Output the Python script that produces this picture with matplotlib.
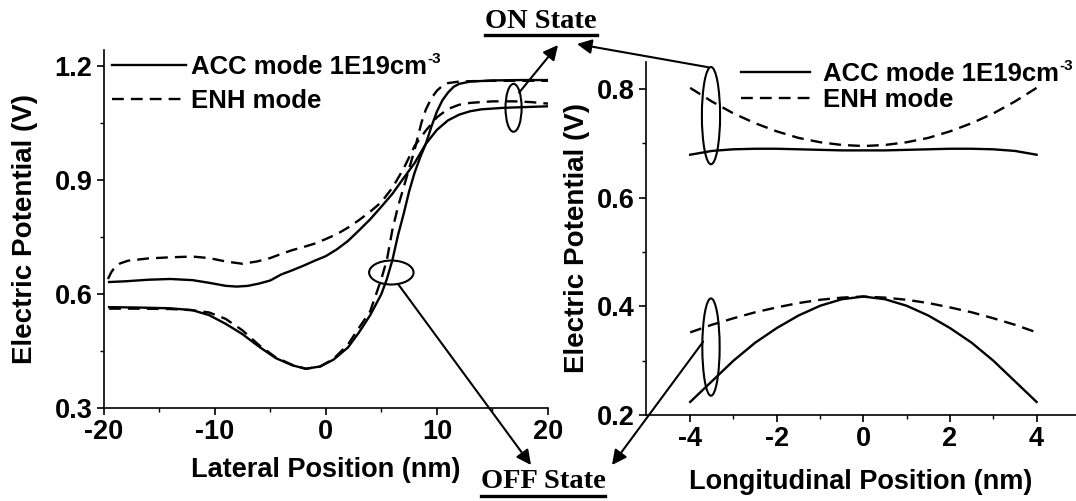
import matplotlib
matplotlib.use("Agg")
import matplotlib.pyplot as plt
from matplotlib.patches import Ellipse
from matplotlib.lines import Line2D

plt.rcParams['font.family'] = ['Liberation Sans', 'DejaVu Sans']
plt.rcParams['font.weight'] = 'bold'
plt.rcParams['axes.unicode_minus'] = False

# lateral cut (nm, V)
lat_acc_on_x = [-19.5, -18, -16, -14, -12, -10.5, -9, -8, -7, -6, -5, -4, -3, -2, -1, 0, 1, 2, 3, 4, 5,
                6, 7, 8, 9, 10, 11, 12, 13, 14, 16, 18, 20]
lat_acc_on_v = [0.632, 0.634, 0.638, 0.640, 0.637, 0.630, 0.622, 0.620, 0.622, 0.628, 0.636, 0.652, 0.663,
                0.675, 0.688, 0.700, 0.718, 0.740, 0.768, 0.797, 0.830, 0.864, 0.905, 0.945, 0.995, 1.032,
                1.057, 1.072, 1.081, 1.086, 1.090, 1.092, 1.094]
lat_enh_on_x = [-19.6, -19.3, -19.0, -18.5, -17.8, -16, -14, -12, -10.5, -9, -7.5, -6.2, -5, -4, -3, -2, -1,
                0, 1, 2, 3, 4, 5, 6, 7, 8, 9, 10, 11, 12, 13, 15, 17, 18.5, 20]
lat_enh_on_v = [0.640, 0.658, 0.670, 0.681, 0.688, 0.694, 0.697, 0.699, 0.695, 0.686, 0.680, 0.686, 0.695,
                0.706, 0.716, 0.724, 0.733, 0.745, 0.758, 0.775, 0.795, 0.817, 0.842, 0.880, 0.930, 0.990,
                1.030, 1.065, 1.087, 1.098, 1.103, 1.107, 1.107, 1.105, 1.101]
lat_acc_off_x = [-19.5, -17, -14, -12, -10.5, -9, -7.5, -6, -4.5, -3, -1.8, -0.5, 0.7, 2, 3, 4, 5, 5.5, 6,
                 6.5, 7, 7.5, 8, 8.5, 9, 9.5, 10, 10.5, 11, 11.5, 12, 13, 15, 17.5, 20]
lat_acc_off_v = [0.566, 0.565, 0.563, 0.558, 0.545, 0.522, 0.495, 0.462, 0.432, 0.413, 0.404, 0.410, 0.428,
                 0.460, 0.500, 0.545, 0.600, 0.640, 0.690, 0.755, 0.810, 0.870, 0.920, 0.960, 0.995, 1.040,
                 1.080, 1.110, 1.130, 1.145, 1.153, 1.159, 1.162, 1.163, 1.163]
lat_enh_off_x = [-19.5, -17, -14, -12, -10.5, -9, -7.5, -6, -4.5, -3, -1.8, -0.5, 0.7, 2, 3, 4, 5, 5.5, 6,
                 6.5, 7, 7.5, 8, 8.6, 9, 9.5, 10, 10.5, 11, 12, 13, 15, 20]
lat_enh_off_v = [0.562, 0.562, 0.561, 0.558, 0.552, 0.535, 0.505, 0.466, 0.434, 0.414, 0.404, 0.410, 0.430,
                 0.468, 0.512, 0.555, 0.640, 0.690, 0.770, 0.830, 0.880, 0.930, 0.980, 1.050, 1.085, 1.115,
                 1.135, 1.148, 1.155, 1.159, 1.160, 1.161, 1.161]

# longitudinal cut (nm, V)
lon_x = [-4, -3.5, -3, -2.5, -2, -1.5, -1, -0.5, 0, 0.5, 1, 1.5, 2, 2.5, 3, 3.5, 4]
lon_acc_on = [0.679, 0.686, 0.689, 0.690, 0.690, 0.689, 0.688, 0.687, 0.687, 0.687, 0.688, 0.689, 0.690,
              0.690, 0.689, 0.686, 0.679]
lon_enh_on = [0.802, 0.777, 0.755, 0.737, 0.722, 0.710, 0.702, 0.697, 0.695, 0.697, 0.702, 0.710, 0.722,
              0.737, 0.755, 0.777, 0.802]
lon_acc_off = [0.224, 0.262, 0.300, 0.333, 0.360, 0.383, 0.401, 0.413, 0.418, 0.413, 0.401, 0.383, 0.360,
               0.333, 0.300, 0.262, 0.224]
lon_enh_off = [0.352, 0.366, 0.378, 0.389, 0.398, 0.406, 0.412, 0.416, 0.418, 0.416, 0.412, 0.406, 0.398,
               0.389, 0.378, 0.366, 0.352]

lbl_acc = 'ACC mode 1E19cm'
lbl_acc_sup = '-3'
lbl_enh = 'ENH mode'

LW = 1.7
DASH = (5, 3)
FS = 19.5
LFS = 18.5

fig = plt.figure(figsize=(10.76, 5.01), dpi=100)
ax1 = fig.add_axes([0.0962, 0.185, 0.4131, 0.7152])
ax2 = fig.add_axes([0.6004, 0.1717, 0.3996, 0.7049])

ax1.plot(lat_acc_on_x, lat_acc_on_v, 'k-', lw=LW, label=lbl_acc)
ax1.plot(lat_enh_on_x, lat_enh_on_v, 'k--', lw=LW, dashes=DASH, label=lbl_enh)
ax1.plot(lat_acc_off_x, lat_acc_off_v, 'k-', lw=LW)
ax1.plot(lat_enh_off_x, lat_enh_off_v, 'k--', lw=LW, dashes=DASH)

ax2.plot(lon_x, lon_acc_on, 'k-', lw=LW, label=lbl_acc)
ax2.plot(lon_x, lon_enh_on, 'k--', lw=LW, dashes=DASH, label=lbl_enh)
ax2.plot(lon_x, lon_acc_off, 'k-', lw=LW)
ax2.plot(lon_x, lon_enh_off, 'k--', lw=LW, dashes=DASH)

ax1.set_xlim(-20, 20)
ax1.set_ylim(0.3, 1.242)
ax1.set_xticks([-20, -10, 0, 10, 20])
ax1.set_xticks([-15, -5, 5, 15], minor=True)
ax1.set_yticks([0.3, 0.6, 0.9, 1.2])
ax1.set_yticks([0.45, 0.75, 1.05], minor=True)
ax1.set_xlabel('Lateral Position (nm)', fontsize=FS, fontweight='bold', labelpad=8)
ax1.set_ylabel('Electric Potential (V)', fontsize=20, fontweight='bold', labelpad=12)

ax2.set_xlim(-5.02, 4.91)
ax2.set_ylim(0.2, 0.85)
ax2.set_xticks([-4, -2, 0, 2, 4])
ax2.set_xticks([-3, -1, 1, 3], minor=True)
ax2.set_yticks([0.2, 0.4, 0.6, 0.8])
ax2.set_yticks([0.3, 0.5, 0.7], minor=True)
ax2.set_xlabel('Longitudinal Position (nm)', fontsize=FS, fontweight='bold', labelpad=12)
ax2.set_ylabel('Electric Potential (V)', fontsize=20, fontweight='bold', labelpad=5)

ax1.yaxis.set_major_formatter(matplotlib.ticker.FormatStrFormatter('%.1f'))
ax2.yaxis.set_major_formatter(matplotlib.ticker.FormatStrFormatter('%.1f'))

for ax in (ax1, ax2):
    ax.spines['top'].set_visible(False)
    ax.spines['right'].set_visible(False)
    for s in ('left', 'bottom'):
        ax.spines[s].set_linewidth(1.2)
    ax.tick_params(which='major', direction='out', length=5, width=1.2, labelsize=FS, pad=3)
    ax.tick_params(which='minor', direction='out', length=3, width=1.0)
    ax.patch.set_alpha(0)

leg1 = ax1.legend(loc='upper left', bbox_to_anchor=(0.02, 0.985), frameon=False, fontsize=LFS,
                  handlelength=2.85, handletextpad=0.2, labelspacing=0.36, borderpad=0, borderaxespad=0)
leg2 = ax2.legend(loc='upper left', bbox_to_anchor=(0.22, 1.0), frameon=False, fontsize=LFS,
                  handlelength=2.7, handletextpad=0.5, labelspacing=0.08, borderpad=0, borderaxespad=0)

# ellipses marking the curve groups
ax1.add_patch(Ellipse((16.9, 1.09), 1.45, 0.126, fill=False, lw=1.5, ec='k'))
ax1.add_patch(Ellipse((5.9, 0.657), 4.0, 0.063, fill=False, lw=1.5, ec='k'))
ax2.add_patch(Ellipse((-3.52, 0.751), 0.42, 0.179, fill=False, lw=1.5, ec='k'))
ax2.add_patch(Ellipse((-3.52, 0.325), 0.40, 0.179, fill=False, lw=1.5, ec='k'))

# state labels
t_on = fig.text(541 / 1076, 1 - 21 / 501, 'ON State', ha='center', va='center', fontsize=20.5,
                fontweight='bold', family='Liberation Serif')
t_off = fig.text(543 / 1076, 1 - 482 / 501, 'OFF State', ha='center', va='center', fontsize=20.5,
                 fontweight='bold', family='Liberation Serif')

arrow = dict(arrowstyle='-|>', color='k', lw=1.5, mutation_scale=22, shrinkA=0, shrinkB=0)
H = 501
ax1.annotate('', xy=(558, H - 45), xycoords='figure pixels', xytext=(17.4, 1.13),
             textcoords='data', arrowprops=arrow)
ax2.annotate('', xy=(577, H - 44), xycoords='figure pixels', xytext=(-3.58, 0.84),
             textcoords='data', arrowprops=arrow)
ax1.annotate('', xy=(531, H - 465), xycoords='figure pixels', xytext=(6.5, 0.627),
             textcoords='data', arrowprops=arrow)
ax2.annotate('', xy=(612, H - 465), xycoords='figure pixels', xytext=(-3.7, 0.335),
             textcoords='data', arrowprops=arrow)

fig.canvas.draw()
r = fig.canvas.get_renderer()
inv = fig.transFigure.inverted()
for t in (t_on, t_off):
    bb = t.get_window_extent(r).transformed(inv)
    y = bb.y0 - 0.002
    fig.add_artist(Line2D([bb.x0, bb.x1], [y, y], color='k', lw=2.4, transform=fig.transFigure))

# small superscript after the doping label
for leg in (leg1, leg2):
    bb = leg.get_texts()[0].get_window_extent(r)
    x, y = inv.transform((bb.x1 + 1, bb.y1 + 3))
    fig.text(x, y, lbl_acc_sup, ha='left', va='top', fontsize=11, fontweight='bold')

fig.savefig('out.png', dpi=100)
